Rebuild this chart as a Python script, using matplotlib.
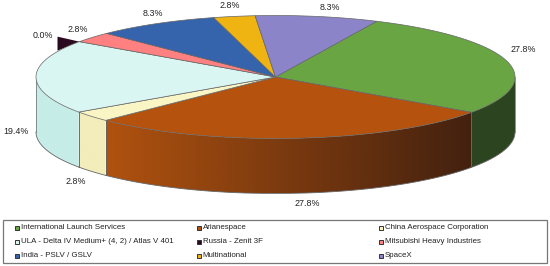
import numpy as np
import matplotlib
matplotlib.use("Agg")
import matplotlib.pyplot as plt
from matplotlib.patches import Polygon, Rectangle

plt.rcParams["font.family"] = ["Liberation Sans", "DejaVu Sans"]

# data
names = ["International Launch Services", "Arianespace", "China Aerospace Corporation",
         "ULA - Delta IV Medium+ (4, 2) / Atlas V 401", "Russia - Zenit 3F", "Mitsubishi Heavy Industries",
         "India - PSLV / GSLV", "Multinational", "SpaceX"]
values = [27.8, 27.8, 2.8, 19.4, 0.0, 2.8, 8.3, 2.8, 8.3]
top_colors = ["#6aa544", "#b5530e", "#f9f5c5", "#d9f6f2", "#2a0a1e", "#ff8080", "#3563ac", "#efb312", "#8c84c8"]
side_left = ["#2c4520", "#b0520f", "#f3edbb", "#c6ede8", "#2a0a1e", "#ff8080", "#3563ac", "#efb312", "#8c84c8"]
side_right = ["#2c4520", "#43210f", "#f3edbb", "#c6ede8", "#2a0a1e", "#ff8080", "#3563ac", "#efb312", "#8c84c8"]
label_pos = [(523, 49), (307, 203), (76, 181), (16, 132), (43, 35), (78, 29), (153, 13), (230, 5), (330, 8)]

# pie geometry in pixels
cx, cy, rx, ry = 275.5, 77, 239.5, 61.5
depth = 55
start = 25

fig = plt.figure(figsize=(5.5, 2.66), dpi=100)
ax = fig.add_axes([0, 0, 1, 1])
ax.axis("off")


def rim(t):
    t = np.radians(t)
    return cx + rx * np.sin(t), cy - ry * np.cos(t)


def mix(c1, c2, f):
    a = np.array(matplotlib.colors.to_rgb(c1))
    b = np.array(matplotlib.colors.to_rgb(c2))
    return a + (b - a) * f


total = sum(values)
angles = start + np.cumsum([0] + values) / total * 360

# side walls, only the front half shows
for i in range(len(values)):
    t0 = max(angles[i], 90)
    t1 = min(angles[i + 1], 270)
    if t1 <= t0:
        continue
    ts = np.linspace(t0, t1, 120)
    xs, ys = rim(ts)
    wall = Polygon(list(zip(xs, ys)) + list(zip(xs[::-1], ys[::-1] + depth)),
                   facecolor="none", edgecolor="none", transform=ax.transData)
    ax.add_patch(wall)
    # gradient runs left to right across the whole wall
    fr = np.linspace(0, 1, 256)
    grad = np.array([mix(side_left[i], side_right[i], f) for f in fr])[np.newaxis, :, :]
    im = ax.imshow(grad, extent=[xs.min(), xs.max(), ys.max() + depth, ys.min()], aspect="auto", zorder=2,
                   interpolation="bilinear")
    im.set_clip_path(wall)
    x0, y0 = rim(t0)
    x1, y1 = rim(t1)
    ax.plot([x0, x0], [y0, y0 + depth], color="#666666", lw=0.5, zorder=3)
    ax.plot([x1, x1], [y1, y1 + depth], color="#666666", lw=0.5, zorder=3)
    ax.plot(xs, ys + depth, color="#666666", lw=0.6, zorder=3)

# the zero slice still shows as a small dark sliver behind the pie
x_r, y_r = rim(angles[4])
ax.add_patch(Polygon([(x_r, y_r), (x_r - 22, y_r - 5), (x_r - 22, y_r + 9)],
                     facecolor=top_colors[4], edgecolor="none", zorder=1))

# top faces
for i in range(len(values)):
    if values[i] == 0:
        continue
    ts = np.linspace(angles[i], angles[i + 1], 100)
    xs, ys = rim(ts)
    pts = [(cx, cy)] + list(zip(xs, ys))
    ax.add_patch(Polygon(pts, closed=True, facecolor=top_colors[i], edgecolor="#666666", lw=0.5, zorder=4))

# slice labels
for v, (lx, ly) in zip(values, label_pos):
    ax.text(lx, ly, f"{v:.1f}%", ha="center", va="center", fontsize=6.4, color="#222222", zorder=5)

# legend
ax.add_patch(Rectangle((2.5, 220), 544, 43, facecolor="white", edgecolor="#777777", lw=0.9, zorder=5))
col_x = [16.5, 198.5, 380.7]
row_y = [227.7, 241.7, 255.7]
for i, name in enumerate(names):
    mx = col_x[i % 3]
    my = row_y[i // 3]
    ax.add_patch(Rectangle((mx - 2, my - 2), 4, 4, facecolor=top_colors[i], edgecolor="#333333", lw=0.7, zorder=6))
    ax.text(mx + 4.2, my, name, ha="left", va="center", fontsize=5.7, color="#222222", zorder=6)

ax.set_xlim(0, 550)
ax.set_ylim(266, 0)
fig.savefig("out.png", dpi=100)
